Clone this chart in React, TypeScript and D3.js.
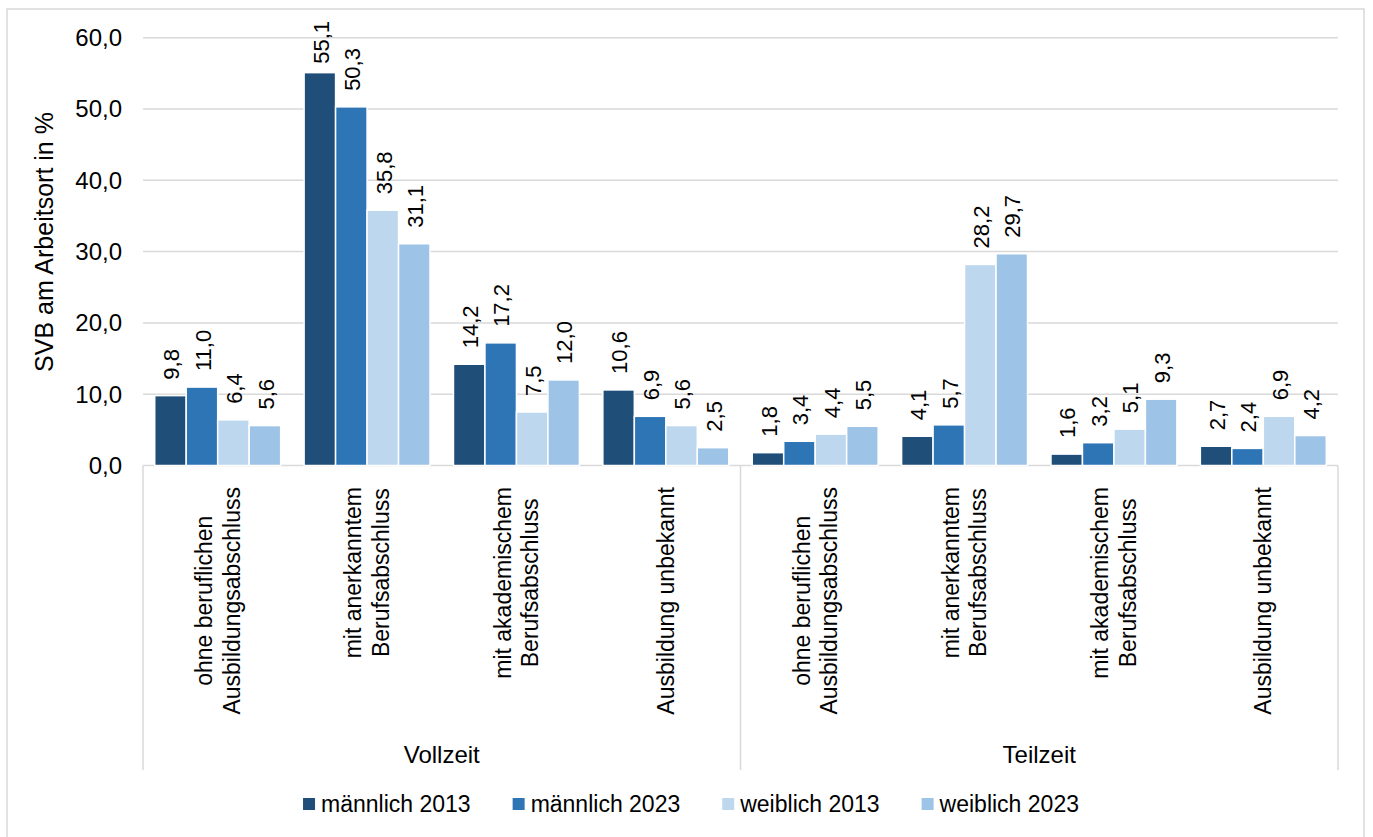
import React from "react";
import * as d3 from "d3";

const categories = [
  ["ohne beruflichen", "Ausbildungsabschluss"],
  ["mit anerkanntem", "Berufsabschluss"],
  ["mit akademischem", "Berufsabschluss"],
  ["Ausbildung unbekannt"],
  ["ohne beruflichen", "Ausbildungsabschluss"],
  ["mit anerkanntem", "Berufsabschluss"],
  ["mit akademischem", "Berufsabschluss"],
  ["Ausbildung unbekannt"],
];
const groups = ["Vollzeit", "Teilzeit"];
const seriesNames = ["männlich 2013", "männlich 2023", "weiblich 2013", "weiblich 2023"];
const maennlich2013 = [9.8, 55.1, 14.2, 10.6, 1.8, 4.1, 1.6, 2.7];
const maennlich2023 = [11.0, 50.3, 17.2, 6.9, 3.4, 5.7, 3.2, 2.4];
const weiblich2013 = [6.4, 35.8, 7.5, 5.6, 4.4, 28.2, 5.1, 6.9];
const weiblich2023 = [5.6, 31.1, 12.0, 2.5, 5.5, 29.7, 9.3, 4.2];
const yTicks = [0, 10, 20, 30, 40, 50, 60];
const colors = ["#1F4E79", "#2E75B6", "#BDD7EE", "#9DC3E6"];
const yTitle = "SVB am Arbeitsort in %";

const FONT = "'Liberation Sans', Arial, sans-serif";
const FS = 23;

let ctx: CanvasRenderingContext2D | null = null;
function measure(t: string, size = FS) {
  if (!ctx) {
    const c = document.createElement("canvas");
    ctx = c.getContext("2d");
  }
  if (!ctx) return t.length * size * 0.55;
  ctx.font = `${size}px 'Liberation Sans', Arial, sans-serif`;
  return ctx.measureText(t).width;
}
const fmt = (v: number) => v.toFixed(1).replace(".", ",");

export default function App() {
  const W = 1373, H = 837;
  const left = 143, right = 1338, top = 37.7, bottom = 465.5;
  const series = [maennlich2013, maennlich2023, weiblich2013, weiblich2023];
  const y = d3.scaleLinear().domain([0, 60]).range([bottom, top]);
  const x = d3
    .scaleBand<number>()
    .domain(d3.range(categories.length))
    .range([left, right])
    .paddingInner(0.157)
    .paddingOuter(0.157 / 2);
  const xs = d3.scaleBand<number>().domain(d3.range(series.length)).range([0, x.bandwidth()]);
  const step = x.step();
  const groupX = d3.scaleBand<number>().domain([0, 1]).range([left, right]);
  const sepY2 = 770;
  const labelTop = 487;

  // legend layout
  const sq = 12, sqGap = 6, itemGap = 42;
  const widths = seriesNames.map((s) => measure(s));
  const totalW = widths.reduce((a, b) => a + b, 0) + seriesNames.length * (sq + sqGap) + itemGap * (seriesNames.length - 1);
  let lx = 691 - totalW / 2;
  const legendItems = seriesNames.map((s, i) => {
    const it = { x: lx, name: s, color: colors[i] };
    lx += sq + sqGap + widths[i] + itemGap;
    return it;
  });

  return (
    <div style={{ position: "absolute", left: 0, top: 0 }}>
      <svg width={W} height={H} style={{ display: "block", fontFamily: FONT }}>
        <rect x={0} y={0} width={W} height={H} fill="#fff" />
        <rect x={7} y={9} width={1357} height={830} fill="#fff" stroke="#D9D9D9" strokeWidth={1.5} />
        {/* gridlines */}
        {yTicks.map((t) => (
          <line key={t} x1={left} x2={right} y1={y(t)} y2={y(t)} stroke="#D9D9D9" strokeWidth={1.5} />
        ))}
        {/* y tick labels */}
        {yTicks.map((t) => (
          <text key={"l" + t} x={122} y={y(t)} dy="0.35em" textAnchor="end" fontSize={24} fill="#000">
            {fmt(t)}
          </text>
        ))}
        {/* y title */}
        <text
          transform={`translate(${53},${242}) rotate(-90)`}
          textAnchor="middle"
          fontSize={25}
          fill="#000"
        >
          {yTitle}
        </text>
        {/* bars */}
        {categories.map((_, ci) =>
          series.map((s, si) => {
            const v = s[ci];
            const bx = (x(ci) as number) + (xs(si) as number);
            return (
              <rect
                key={ci + "-" + si}
                x={bx}
                y={y(v)}
                width={xs.bandwidth()}
                height={y(0) - y(v)}
                fill={colors[si]}
                stroke="#fff"
                strokeWidth={1.5}
              />
            );
          })
        )}
        {/* data labels */}
        {categories.map((_, ci) =>
          series.map((s, si) => {
            const v = s[ci];
            const cx = (x(ci) as number) + (xs(si) as number) + xs.bandwidth() / 2;
            const t = fmt(v);
            const len = measure(t, 22);
            const start = Math.max(y(v) - 16, 21 + len);
            return (
              <text
                key={"d" + ci + "-" + si}
                transform={`translate(${cx + 1},${start}) rotate(-90)`}
                dy="0.35em"
                fontSize={22}
                fill="#000"
              >
                {t}
              </text>
            );
          })
        )}
        {/* category axis separators */}
        {[left, left + step * 4, right].map((sx, i) => (
          <line key={"s" + i} x1={sx} x2={sx} y1={bottom} y2={sepY2} stroke="#D9D9D9" strokeWidth={1.5} />
        ))}
        {/* category labels */}
        {categories.map((lines, ci) => {
          const cx = (x(ci) as number) + x.bandwidth() / 2;
          const maxLen = Math.max(...lines.map((l) => measure(l)));
          const cy = labelTop + maxLen / 2;
          const lh = 27.5;
          return lines.map((l, li) => {
            const off = (li - (lines.length - 1) / 2) * lh;
            return (
              <text
                key={"c" + ci + "-" + li}
                transform={`translate(${cx + off},${cy}) rotate(-90)`}
                textAnchor="middle"
                dy="0.35em"
                fontSize={FS}
                fill="#000"
              >
                {l}
              </text>
            );
          });
        })}
        {/* group labels */}
        {groups.map((g, gi) => (
          <text
            key={"g" + g}
            x={(groupX(gi) as number) + groupX.bandwidth() / 2}
            y={763}
            textAnchor="middle"
            fontSize={24}
            fill="#000"
          >
            {g}
          </text>
        ))}
        {/* legend */}
        {legendItems.map((it) => (
          <g key={it.name}>
            <rect x={it.x} y={798} width={sq} height={sq} fill={it.color} />
            <text x={it.x + sq + sqGap} y={804} dy="0.35em" fontSize={FS} fill="#000">
              {it.name}
            </text>
          </g>
        ))}
      </svg>
    </div>
  );
}
